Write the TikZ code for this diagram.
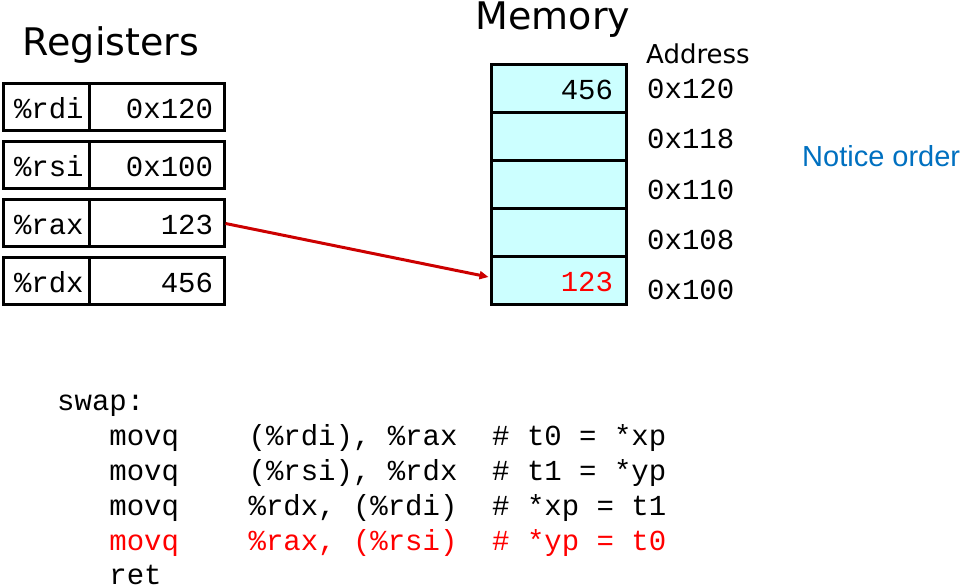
\documentclass[tikz,border=0pt]{standalone}
\usepackage{fontspec}
\setmainfont{DejaVu Sans}
\setmonofont{Liberation Mono}
\newfontfamily\notefont{Liberation Sans}
\usetikzlibrary{arrows.meta,calc}
\definecolor{cellcyan}{HTML}{CCFFFF}
\definecolor{arrowred}{HTML}{CC0000}
\definecolor{noteblue}{HTML}{0070C0}
\newcommand{\monofont}{\fontsize{29}{34}\selectfont\ttfamily}
\tikzset{
  regbox/.style={draw, line width=3pt, minimum height=47pt, inner ysep=0pt,
    text height=35pt, text depth=12pt, font=\monofont},
  reglabel/.style={regbox, inner xsep=11pt, text width=64pt, align=left},
  regval/.style={regbox, inner xsep=11pt, text width=113pt, align=right},
  cell/.style={draw, line width=3pt, fill=cellcyan, inner ysep=0pt,
    text height=35pt, text depth=13pt, inner xsep=13pt, text width=109pt,
    align=right, font=\monofont},
  addr/.style={anchor=base west, inner sep=0pt, font=\monofont},
  codeline/.style={anchor=base west, inner sep=0pt, font=\monofont},
  titletext/.style={anchor=base, inner sep=0pt, font=\fontsize{38}{42}\selectfont},
}
\begin{document}
\begin{tikzpicture}[x=1pt,y=-1pt]
\useasboundingbox (0,0) rectangle (961,585);

% titles
\node[titletext] (regtitle) at (111,56) {Registers};
\node[titletext] (memtitle) at (553,30) {Memory};
\node[anchor=base west, inner sep=0pt, font=\fontsize{26}{30}\selectfont] (addrtitle) at (646,64) {Address};
\node[anchor=base west, inner sep=0pt, text=noteblue, font=\notefont\fontsize{29}{33}\selectfont] (note) at (802,167) {Notice order};

% registers
\node[reglabel] (rdi) at (46,107.5) {\%rdi};
\node[regval]   (rdiv) at (156.5,107.5) {0x120};
\node[reglabel] (rsi) at (46,165.5) {\%rsi};
\node[regval]   (rsiv) at (156.5,165.5) {0x100};
\node[reglabel] (rax) at (46,223.5) {\%rax};
\node[regval]   (raxv) at (156.5,223.5) {123};
\node[reglabel] (rdx) at (46,281.5) {\%rdx};
\node[regval]   (rdxv) at (156.5,281.5) {456};

% memory
\node[cell] (m120) at (558.5,89) {456};
\node[cell] (m118) at (558.5,137) {};
\node[cell] (m110) at (558.5,185) {};
\node[cell] (m108) at (558.5,233) {};
\node[cell, text=red] (m100) at (558.5,281) {123};

% addresses
\node[addr] (a120) at (647,99) {0x120};
\node[addr] (a118) at (647,149) {0x118};
\node[addr] (a110) at (647,200) {0x110};
\node[addr] (a108) at (647,250) {0x108};
\node[addr] (a100) at (647,300) {0x100};

% arrow
\draw[arrowred, line width=3pt, -{Triangle[length=9pt,width=8pt]}]
  (raxv.east) -- ($(m100.west)+(-1,-4)$);

% code
\node[codeline] (c0) at (57,410) {swap:};
\node[codeline] (c1) at (57,445) {\ \ \ movq\ \ \ \ (\%rdi), \%rax\ \ \# t0 = *xp};
\node[codeline] (c2) at (57,480) {\ \ \ movq\ \ \ \ (\%rsi), \%rdx\ \ \# t1 = *yp};
\node[codeline] (c3) at (57,515) {\ \ \ movq\ \ \ \ \%rdx, (\%rdi)\ \ \# *xp = t1};
\node[codeline, text=red] (c4) at (57,550) {\ \ \ movq\ \ \ \ \%rax, (\%rsi)\ \ \# *yp = t0};
\node[codeline] (c5) at (57,584) {\ \ \ ret};
\end{tikzpicture}
\end{document}
